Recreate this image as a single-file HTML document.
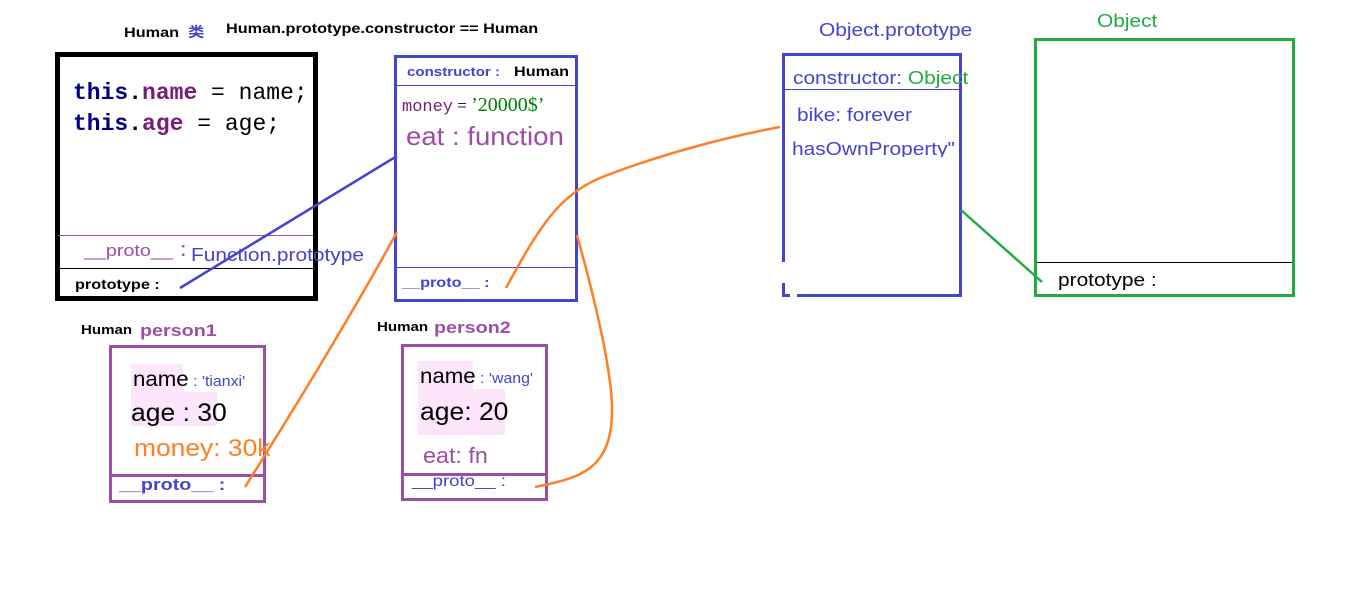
<!DOCTYPE html>
<html><head><meta charset="utf-8"><style>
body{margin:0;width:1360px;height:591px;background:#fff;position:relative;overflow:hidden;font-family:"Liberation Sans","Noto Sans CJK SC",sans-serif}
.a{position:absolute;white-space:nowrap;line-height:1;transform-origin:0 50%}
.w{transform:scaleX(1.16)}
.v{transform:scaleX(1.06)}
.box{position:absolute;box-sizing:border-box}
.mono{font-family:"Liberation Mono",monospace;font-weight:bold;font-size:23px}
</style></head><body>
<div class="a w" style="left:124px;top:25px;font-size:14px;font-weight:bold">Human <span style="color:#4444cc">&nbsp;类</span></div>
<div class="a w" style="left:226px;top:21px;font-size:14px;font-weight:bold">Human.prototype.constructor == Human</div>

<div class="box" style="left:55px;top:52px;width:263px;height:249px;border:5px solid #000"></div>
<div class="box" style="left:58px;top:235px;width:255px;height:1px;background:#9b4ea5"></div>
<div class="box" style="left:58px;top:268px;width:255px;height:1px;background:#000"></div>
<div class="a mono" style="left:73px;top:82px"><span style="color:#000080">this</span>.<span style="color:#7a1b7a">name</span><span style="font-weight:normal"> = name;</span></div>
<div class="a mono" style="left:73px;top:113px"><span style="color:#000080">this</span>.<span style="color:#7a1b7a">age</span><span style="font-weight:normal"> = age;</span></div>
<div class="a w" style="left:84px;top:242px;font-size:17px;color:#9b4ea5">__proto__ ：</div>
<div class="a w" style="left:191px;top:246px;font-size:18px;color:#4444cc">Function.prototype</div>
<div class="a w" style="left:75px;top:277px;font-size:14px;font-weight:bold">prototype :</div>

<div class="box" style="left:394px;top:55px;width:184px;height:247px;border:3px solid #4444cc"></div>
<div class="box" style="left:396px;top:85px;width:180px;height:1px;background:#4444cc"></div>
<div class="box" style="left:396px;top:267px;width:180px;height:1px;background:#4444cc"></div>
<div class="a w" style="left:407px;top:65px;font-size:13px;font-weight:bold;color:#4444cc">constructor :</div>
<div class="a w" style="left:514px;top:64px;font-size:14px;font-weight:bold">Human</div>
<div class="a" style="left:402px;top:95px;font-size:17px;font-family:'Liberation Serif',serif"><span style="color:#7a1b7a;font-family:'Liberation Mono',monospace;font-size:17px">money</span> = <span style="color:#008000;font-size:20px">’20000$’</span></div>
<div class="a v" style="left:406px;top:123px;font-size:26px;color:#9b4ea5">eat : function</div>
<div class="a w" style="left:402px;top:275px;font-size:14px;font-weight:bold;color:#4444cc">__proto__ :</div>

<div class="a w" style="left:819px;top:21px;font-size:18px;color:#4444cc">Object.prototype</div>
<div class="box" style="left:782px;top:53px;width:180px;height:244px;border:3px solid #4444cc"></div>
<div class="box" style="left:780px;top:262px;width:6px;height:21px;background:#fff"></div>
<div class="box" style="left:790px;top:292px;width:7px;height:6px;background:#fff"></div>
<div class="box" style="left:784px;top:89px;width:176px;height:1px;background:#4444cc"></div>
<div class="a w" style="left:793px;top:69px;font-size:18px;color:#4444cc">constructor: <span style="color:#22aa44">Object</span></div>
<div class="a w" style="left:797px;top:106px;font-size:18px;color:#4444cc">bike: forever</div>
<div class="a w" style="left:792px;top:140px;font-size:18px;color:#4444cc;height:17px;overflow:hidden">hasOwnProperty"</div>

<div class="a w" style="left:1097px;top:12px;font-size:18px;color:#22aa44">Object</div>
<div class="box" style="left:1034px;top:38px;width:261px;height:259px;border:3px solid #22aa44"></div>
<div class="box" style="left:1037px;top:262px;width:255px;height:1px;background:#000"></div>
<div class="a w" style="left:1058px;top:271px;font-size:18px">prototype :</div>

<div class="a w" style="left:81px;top:323px;font-size:13px;font-weight:bold">Human</div>
<div class="a w" style="left:140px;top:322px;font-size:17px;font-weight:bold;color:#9b4ea5">person1</div>
<div class="box" style="left:109px;top:345px;width:157px;height:158px;border:3px solid #9b4ea5"></div>
<div class="box" style="left:109px;top:474px;width:157px;height:3px;background:#9b4ea5"></div>
<div class="box" style="left:131px;top:364px;width:52px;height:28px;background:#fde5fc"></div>
<div class="box" style="left:131px;top:392px;width:86px;height:34px;background:#fde5fc"></div>
<div class="a v" style="left:133px;top:369px;font-size:21px">name<span style="font-size:15px;color:#4444cc"> : 'tianxi'</span></div>
<div class="a v" style="left:131px;top:401px;font-size:25px">age : 30</div>
<div class="a" style="left:134px;top:437px;font-size:24px;color:#ff7f27;transform:scaleX(1.1)">money: 30k</div>
<div class="a w" style="left:119px;top:476px;font-size:17px;font-weight:bold;color:#4444cc">__proto__ :</div>

<div class="a w" style="left:377px;top:320px;font-size:13px;font-weight:bold">Human</div>
<div class="a w" style="left:434px;top:319px;font-size:17px;font-weight:bold;color:#9b4ea5">person2</div>
<div class="box" style="left:401px;top:344px;width:147px;height:157px;border:3px solid #9b4ea5"></div>
<div class="box" style="left:401px;top:473px;width:147px;height:3px;background:#9b4ea5"></div>
<div class="box" style="left:418px;top:361px;width:55px;height:28px;background:#fde5fc"></div>
<div class="box" style="left:418px;top:389px;width:87px;height:46px;background:#fde5fc"></div>
<div class="a v" style="left:420px;top:366px;font-size:21px">name<span style="font-size:15px;color:#4444cc"> : 'wang'</span></div>
<div class="a v" style="left:420px;top:400px;font-size:25px">age: 20</div>
<div class="a v" style="left:423px;top:445px;font-size:22px;color:#9b4ea5">eat: fn</div>
<div class="a w" style="left:412px;top:474px;font-size:16px;color:#4444cc">__proto__ :</div>

<svg width="1360" height="591" style="position:absolute;left:0;top:0" fill="none">
<line x1="180" y1="288" x2="397" y2="156" stroke="#4444cc" stroke-width="2.5"/>
<path d="M245,487 C300,400 360,300 397,232" stroke="#ff7f27" stroke-width="2.5"/>
<path d="M506,288 C540,225 560,195 600,178 C650,158 720,138 780,127" stroke="#ff7f27" stroke-width="2.5"/>
<path d="M577,235 C595,300 612,370 612,410 C612,470 580,478 535,487" stroke="#ff7f27" stroke-width="2.5"/>
<line x1="961" y1="210" x2="1042" y2="282" stroke="#22aa44" stroke-width="2.5"/>
</svg>
</body></html>
